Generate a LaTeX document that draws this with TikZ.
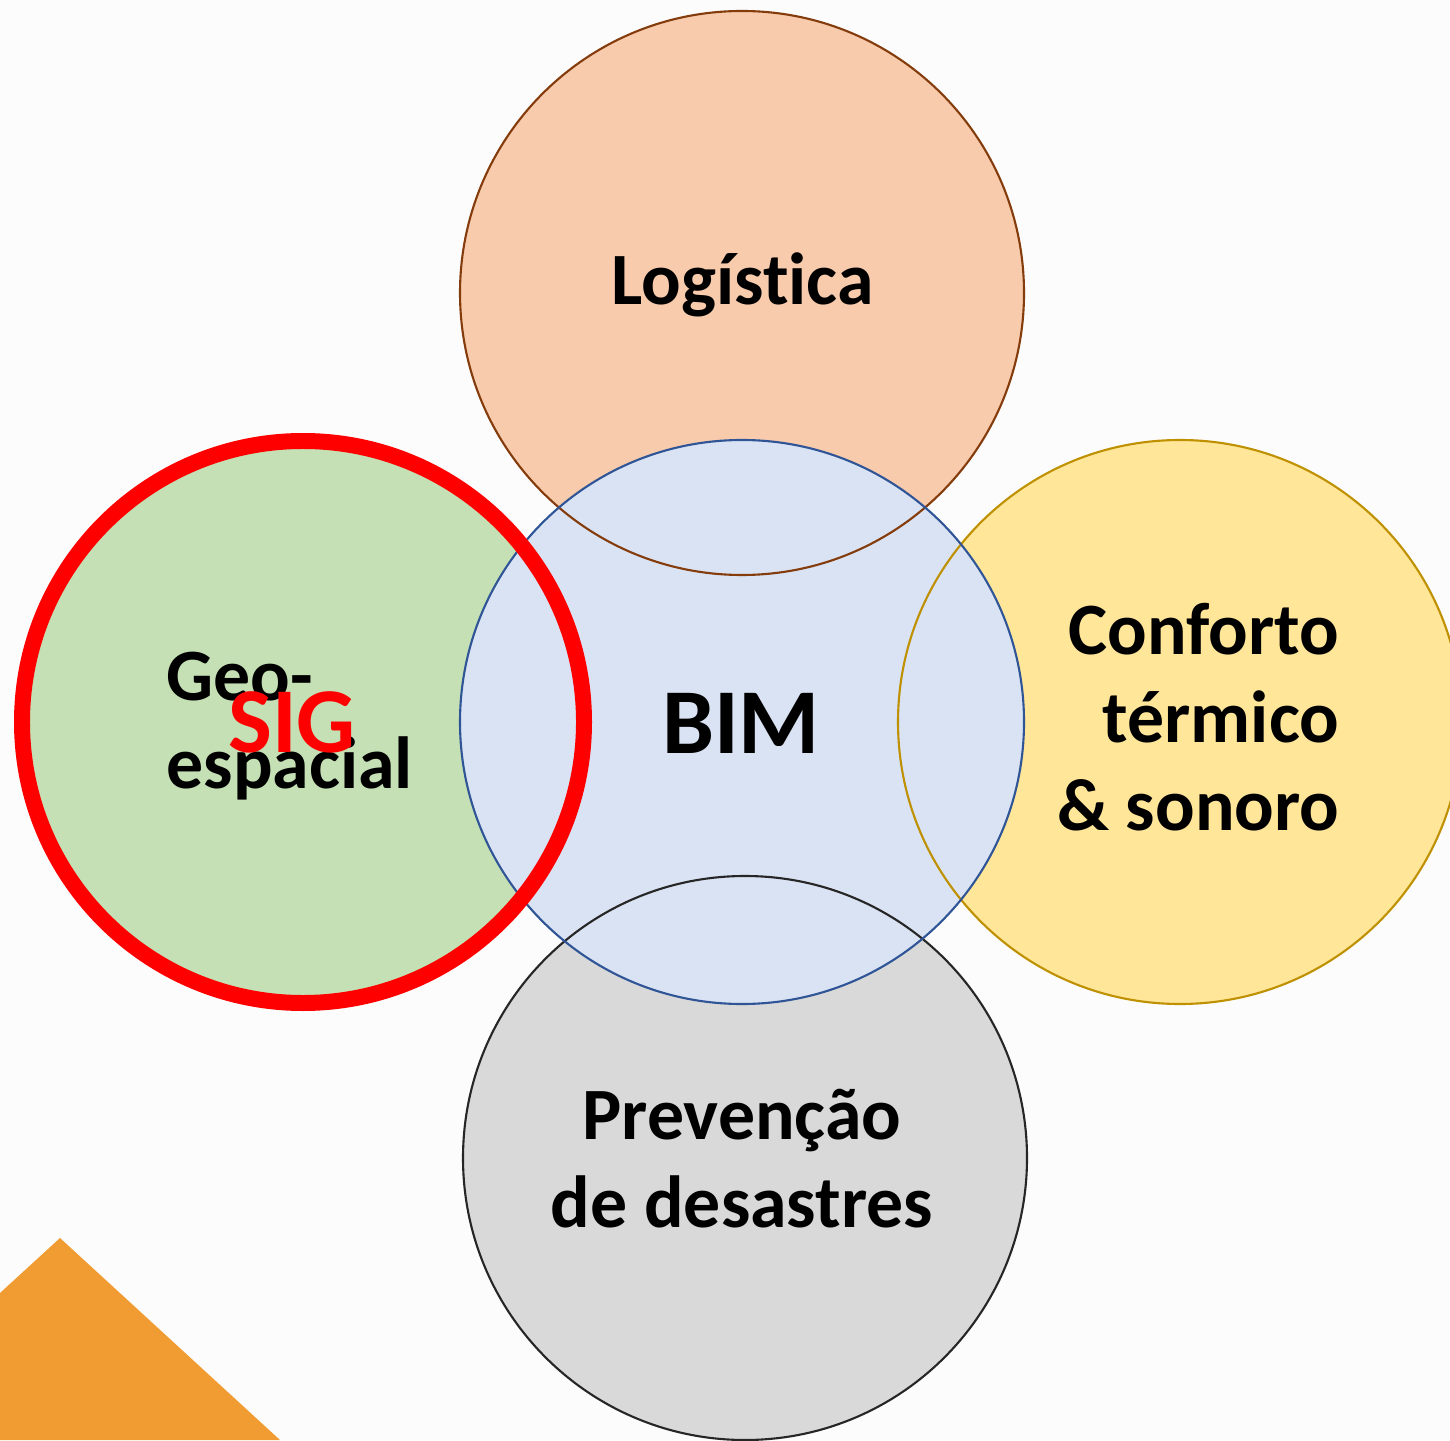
\documentclass[tikz,border=0pt]{standalone}
\usepackage{fontspec}
\setmainfont{Carlito}[Ligatures=NoCommon]
\usepackage{xcolor}
\usepackage{tikz}

\definecolor{bgcol}{HTML}{FCFCFC}
\definecolor{corner}{HTML}{F09C33}
\definecolor{logfill}{HTML}{F8CBAD}
\definecolor{logline}{HTML}{843C0C}
\definecolor{bimfill}{HTML}{DAE3F3}
\definecolor{bimline}{HTML}{2F5597}
\definecolor{conffill}{HTML}{FFE699}
\definecolor{confline}{HTML}{BF9000}
\definecolor{prevfill}{HTML}{D9D9D9}
\definecolor{prevline}{HTML}{262626}
\definecolor{geofill}{HTML}{C5E0B4}
\definecolor{sigred}{HTML}{FF0000}

\tikzset{
	bubble/.style={circle, minimum size=5.64cm, inner sep=0pt},
	lbl/.style={font=\fontsize{21}{25}\selectfont\bfseries, inner sep=0pt},
	big/.style={font=\fontsize{26.4}{30}\selectfont\bfseries, inner sep=0pt},
}

\begin{document}
\begin{tikzpicture}
	\fill[bgcol] (0,0) rectangle (14.5,14.4);
	\useasboundingbox (0,0) rectangle (14.5,14.4);
	\fill[corner] (0,1.47) -- (0.60,2.02) -- (2.80,0) -- (0,0) -- cycle;

	\node[bubble, fill=logfill] (log) at (7.42,11.47) {};
	\node[bubble, fill=conffill] (conf) at (11.80,7.18) {};
	\node[bubble, fill=prevfill] (prev) at (7.45,2.82) {};
	\node[bubble, fill=geofill] (geo) at (3.03,7.18) {};
	\node[bubble, fill=bimfill] (bim) at (7.42,7.18) {};

	\foreach \n/\c in {log/logline, conf/confline, prev/prevline, bim/bimline}
		\draw[\c, line width=0.6pt] (\n.center) circle[radius=2.82];
	\draw[sigred, line width=4.55pt] (geo.center) circle[radius=2.81];

	\node[lbl, anchor=base] (tlog) at (7.425,11.35) {Logística};
	\node[big, anchor=base] (tbim) at (7.41,6.87) {BIM};
	\node[lbl, anchor=base east, align=right] (tconf) at (13.40,6.10) {Conforto\\térmico\\\& sonoro};
	\node[lbl, anchor=base, align=center] (tprev) at (7.42,2.13) {Prevenção\\de desastres};
	\node[lbl, anchor=base west, align=left] (tgeo) at (1.66,6.52) {Geo-\\espacial};
	\node[big, anchor=base, text=sigred] (tsig) at (2.92,6.88) {SIG};
\end{tikzpicture}
\end{document}
